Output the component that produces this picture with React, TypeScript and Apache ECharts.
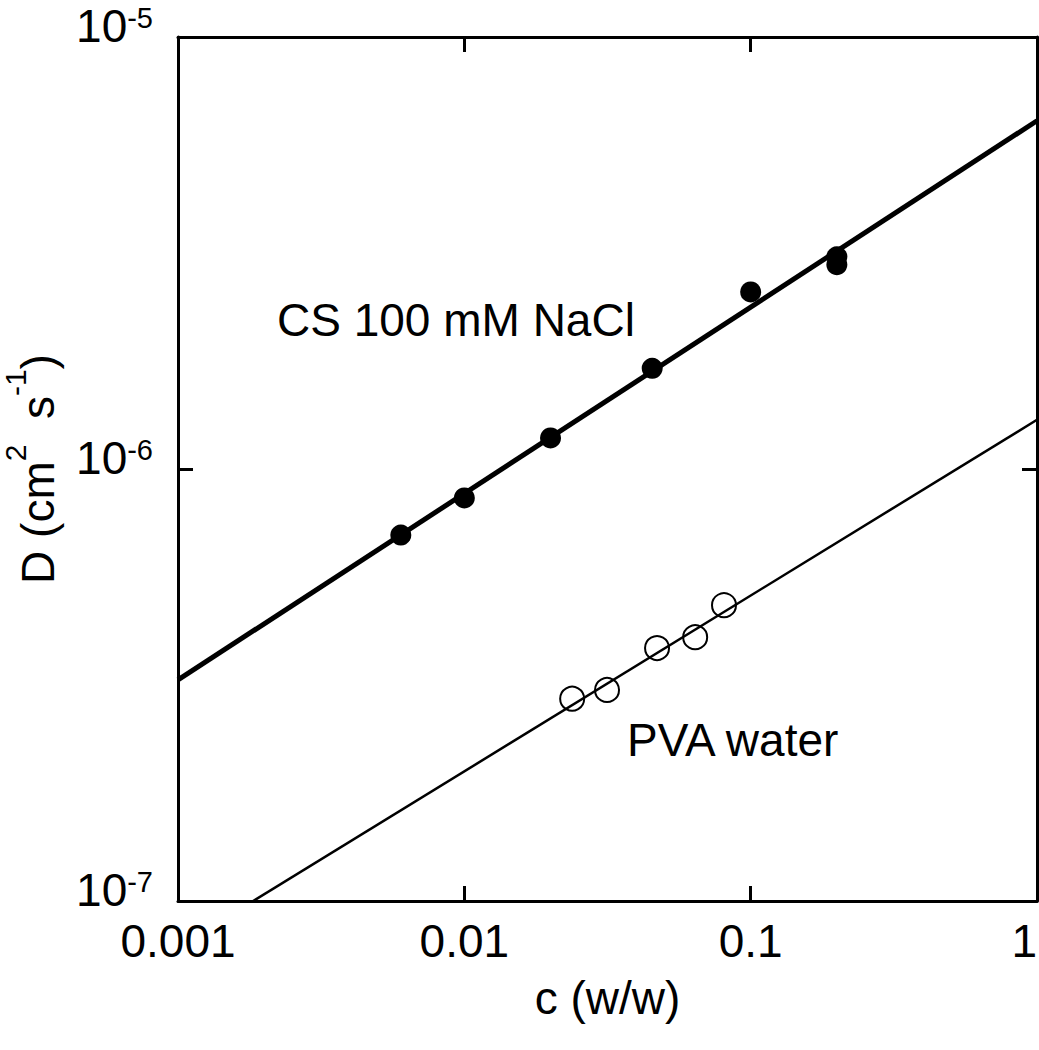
import React, { useEffect, useRef } from "react";
import * as echarts from "echarts";

// ---- data ----
const xTickLabels = ["0.001", "0.01", "0.1", "1"];
const yTickBase = "10";

const csConc = [0.006, 0.01, 0.02, 0.0453, 0.1, 0.2, 0.2];
const csD = [7.03e-7, 8.57e-7, 1.18e-6, 1.71e-6, 2.57e-6, 3.1e-6, 2.97e-6];

const pvaConc = [0.0238, 0.0315, 0.0471, 0.064, 0.0807];
const pvaD = [2.94e-7, 3.08e-7, 3.85e-7, 4.08e-7, 4.84e-7];

// fit lines (end points)
const csFitConc = [0.001, 1];
const csFitD = [3.25e-7, 6.4e-6];
const pvaFitConc = [0.00183, 1];
const pvaFitD = [1.0e-7, 1.3e-6];

const FONT = "Liberation Sans";

const zip = (a: number[], b: number[]) => a.map((v, i) => [v, b[i]]);

export default function App() {
  const ref = useRef<HTMLDivElement>(null);
  useEffect(() => {
    if (!ref.current) return;
    const chart = echarts.init(ref.current, undefined, { renderer: "svg" });
    const axisLine = { show: true, onZero: false, lineStyle: { color: "#000", width: 3 } };
    const axisTick = { show: true, inside: true, length: 15, lineStyle: { color: "#000", width: 3 } };
    const supRich = {
      b: { fontSize: 46, lineHeight: 46, fontFamily: FONT, color: "#000", verticalAlign: "bottom" },
      s: { fontSize: 29, lineHeight: 29, fontFamily: FONT, color: "#000", verticalAlign: "top", padding: [0, 0, 26, 0] },
    };
    const nameRich = {
      b: { fontSize: 46, lineHeight: 76, fontFamily: FONT, color: "#000", verticalAlign: "middle" },
      s: { fontSize: 30, lineHeight: 30, fontFamily: FONT, color: "#000", verticalAlign: "top" },
    };
    chart.setOption({
      animation: false,
      backgroundColor: "#fff",
      grid: { left: 178, right: 2, top: 37, bottom: 149, containLabel: false, outerBoundsMode: "none" },
      xAxis: [
        {
          type: "log",
          logBase: 10,
          min: 0.001,
          max: 1,
          interval: 1,
          position: "bottom",
          axisLine,
          axisTick,
          splitLine: { show: false },
          minorTick: { show: false },
          axisLabel: {
            margin: 17,
            fontSize: 46,
            lineHeight: 46,
            fontFamily: FONT,
            color: "#000",
            alignMaxLabel: "right",
            formatter: (v: number) => xTickLabels[Math.round(Math.log10(v)) + 3],
          },
          name: "c (w/w)",
          nameLocation: "middle",
          nameGap: 74,
          nameMoveOverlap: false,
          nameTextStyle: { fontSize: 46, lineHeight: 46, fontFamily: FONT, color: "#000" },
        },
        {
          type: "log",
          logBase: 10,
          min: 0.001,
          max: 1,
          interval: 1,
          position: "top",
          axisLine,
          axisTick,
          splitLine: { show: false },
          axisLabel: { show: false },
        },
      ],
      yAxis: [
        {
          type: "log",
          logBase: 10,
          min: 1e-7,
          max: 1e-5,
          interval: 1,
          position: "left",
          axisLine,
          axisTick,
          splitLine: { show: false },
          minorTick: { show: false },
          axisLabel: {
            margin: 25,
            padding: [0, 0, 22, 0],
            rich: supRich,
            formatter: (v: number) => `{b|${yTickBase}}{s|${Math.round(Math.log10(v))}}`,
          },
          name: "{b|D (cm}{s|2}{b|  s}{s|-1}{b|)}",
          nameLocation: "middle",
          nameGap: 102,
          nameRotate: 90,
          nameMoveOverlap: false,
          nameTextStyle: { rich: nameRich },
        },
        {
          type: "log",
          logBase: 10,
          min: 1e-7,
          max: 1e-5,
          interval: 1,
          position: "right",
          axisLine,
          axisTick,
          splitLine: { show: false },
          axisLabel: { show: false },
        },
      ],
      graphic: [
        {
          type: "text",
          x: 277,
          y: 320,
          style: { text: "CS 100 mM NaCl", fontSize: 46, fontFamily: FONT, fill: "#000", align: "left", verticalAlign: "middle" },
        },
        {
          type: "text",
          x: 627,
          y: 740,
          style: { text: "PVA water", fontSize: 46, fontFamily: FONT, fill: "#000", align: "left", verticalAlign: "middle" },
        },
      ],
      series: [
        {
          type: "line",
          data: zip(csFitConc, csFitD),
          showSymbol: false,
          lineStyle: { color: "#000", width: 5 },
          z: 2,
        },
        {
          type: "line",
          data: zip(pvaFitConc, pvaFitD),
          showSymbol: false,
          lineStyle: { color: "#000", width: 2.5 },
          z: 2,
        },
        {
          type: "scatter",
          data: zip(csConc, csD),
          symbol: "circle",
          symbolSize: 21,
          itemStyle: { color: "#000", opacity: 1 },
          z: 3,
        },
        {
          type: "scatter",
          data: zip(pvaConc, pvaD),
          symbol: "circle",
          symbolSize: 24,
          itemStyle: { color: "rgba(0,0,0,0)", borderColor: "#000", borderWidth: 2, opacity: 1 },
          z: 3,
        },
      ],
    });
    return () => chart.dispose();
  }, []);
  return (
    <div
      ref={ref}
      style={{ position: "absolute", left: 0, top: 0, width: 1039, height: 1050 }}
    />
  );
}
